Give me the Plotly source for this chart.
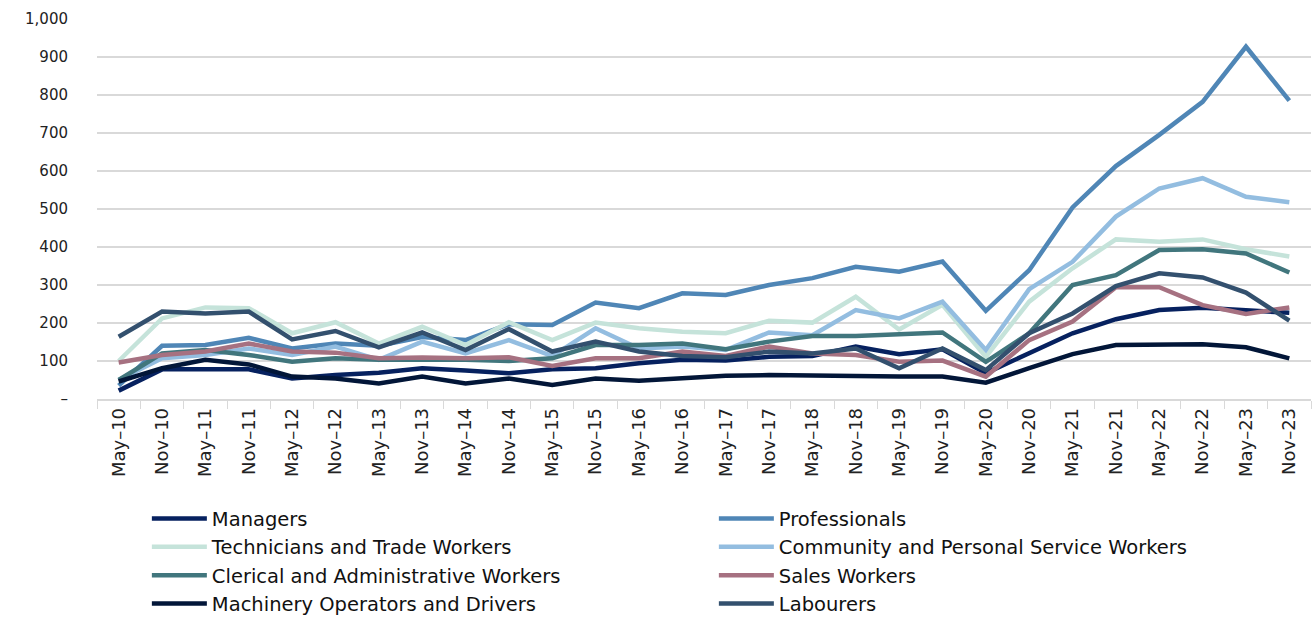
import plotly.graph_objects as go

categories = ["May–10","Nov–10","May–11","Nov–11","May–12","Nov–12","May–13","Nov–13","May–14","Nov–14",
              "May–15","Nov–15","May–16","Nov–16","May–17","Nov–17","May–18","Nov–18","May–19","Nov–19",
              "May–20","Nov–20","May–21","Nov–21","May–22","Nov–22","May–23","Nov–23"]

managers = [22,78,78,78,54,63,69,81,75,68,78,81,94,103,101,111,113,138,118,131,68,120,173,210,234,240,234,227]
professionals = [35,140,142,161,133,146,140,163,155,197,195,254,239,278,274,300,318,348,335,362,232,339,504,613,695,782,927,785]
technicians = [100,212,241,239,173,202,146,190,142,202,155,201,186,177,173,206,201,269,183,248,111,256,344,420,414,420,394,375]
community = [50,107,116,133,116,138,103,151,120,155,113,186,133,138,129,175,168,234,212,256,129,289,361,480,554,581,532,518]
clerical = [50,120,129,116,98,107,103,104,103,100,107,142,142,146,131,151,166,166,170,175,98,173,300,326,392,394,383,333]
sales = [96,116,125,146,125,122,107,109,107,110,87,107,107,125,113,138,120,116,98,101,59,155,204,294,294,247,224,241]
machinery = [46,81,103,91,59,54,41,59,41,54,37,54,48,54,61,63,61,59,59,59,43,81,118,142,142,144,136,107]
labourers = [164,230,225,230,157,179,136,175,129,184,125,151,125,113,110,125,120,133,81,133,76,173,225,297,331,320,280,206]

series = [
    ("Managers", managers, "#06215f"),
    ("Professionals", professionals, "#4f86b6"),
    ("Technicians and Trade Workers", technicians, "#c5e3da"),
    ("Community and Personal Service Workers", community, "#93bde0"),
    ("Clerical and Administrative Workers", clerical, "#41767d"),
    ("Sales Workers", sales, "#a67181"),
    ("Machinery Operators and Drivers", machinery, "#021638"),
    ("Labourers", labourers, "#33506e"),
]

ytickvals = [0,100,200,300,400,500,600,700,800,900,1000]
yticktext = ["–","100","200","300","400","500","600","700","800","900","1,000"]

FONT = "DejaVu Sans"

fig = go.Figure()
for name, vals, col in series:
    fig.add_trace(go.Scatter(x=categories, y=vals, name=name, mode="lines",
                             line=dict(color=col, width=4.5)))

fig.update_layout(
    width=1316, height=618,
    margin=dict(l=97, r=5, t=19, b=219, autoexpand=False),
    paper_bgcolor="white", plot_bgcolor="white",
    font=dict(family=FONT, size=16, color="#222222"),
    showlegend=True,
    legend=dict(orientation="h", xref="container", yref="container",
                x=0.1116, xanchor="left", y=0.192, yanchor="top",
                entrywidth=497, font=dict(family=FONT, size=19.5, color="#111111"),
                traceorder="normal", itemwidth=55, bgcolor="rgba(0,0,0,0)"),
)
fig.update_xaxes(type="category", tickson="boundaries", ticks="outside", ticklen=8,
                 tickcolor="#d9d9d9", showline=True, linecolor="#d9d9d9", linewidth=1.5,
                 showgrid=False, tickangle=-90, tickfont=dict(size=18, color="#222222"),
                 range=[-0.5, len(categories)-0.5], automargin=False)
fig.update_yaxes(range=[0,1000], tickvals=ytickvals, ticktext=yticktext, showgrid=True,
                 gridcolor="#d9d9d9", gridwidth=1.5, zeroline=False, showline=False,
                 ticks="", ticklabelstandoff=28, tickfont=dict(size=15, color="#222222"),
                 automargin=False)

fig.write_html("out.html", config={"displayModeBar": False},
               post_script="document.body.style.margin='0';document.body.style.padding='0';")
